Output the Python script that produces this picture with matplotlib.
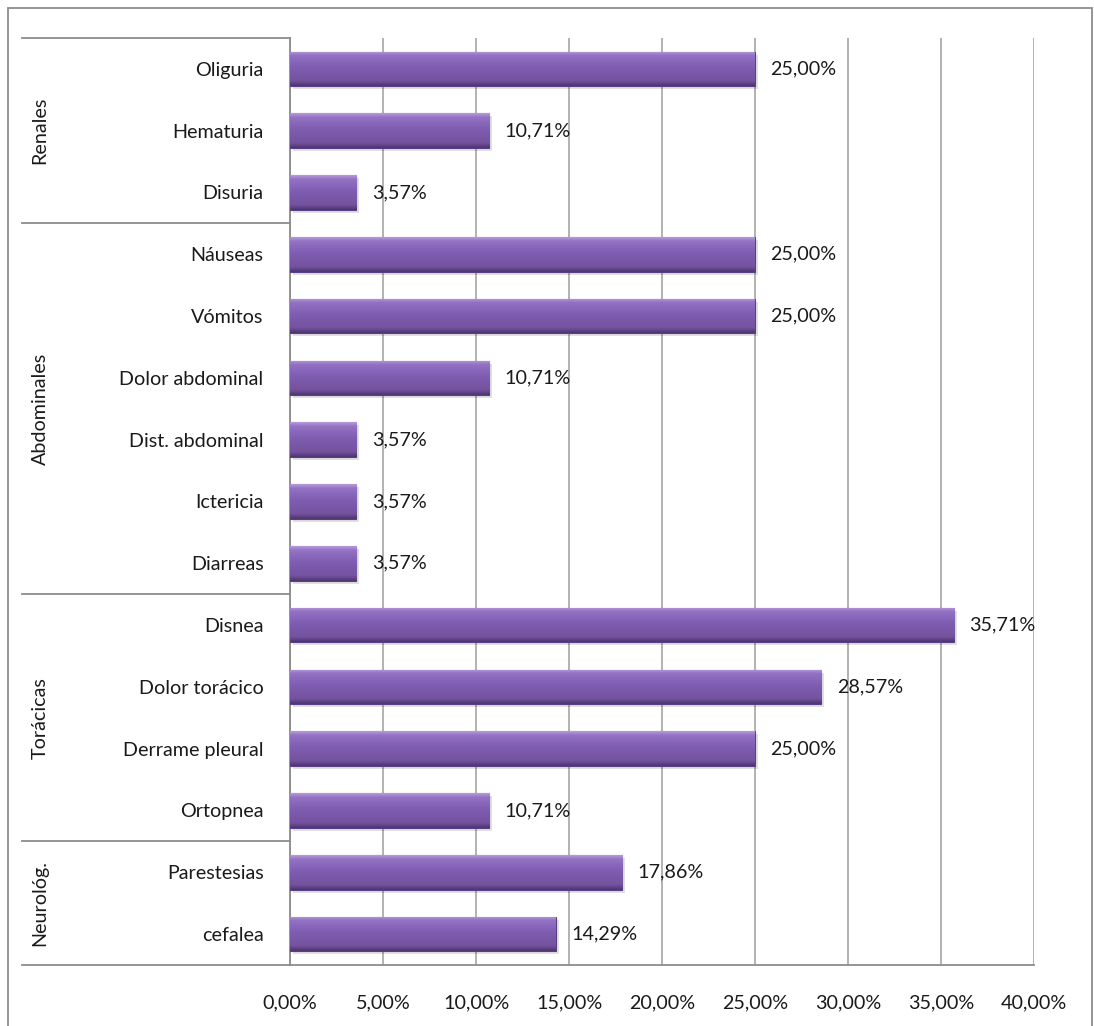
import numpy as np
import matplotlib
matplotlib.use("Agg")
import matplotlib.pyplot as plt
from matplotlib.transforms import blended_transform_factory
from matplotlib.patches import Rectangle

plt.rcParams["font.family"] = ["Lato", "DejaVu Sans"]

# Symptoms grouped by system, listed top to bottom
groups = ["Renales", "Abdominales", "Torácicas", "Neurológ."]
group_items = [
    ["Oliguria", "Hematuria", "Disuria"],
    ["Náuseas", "Vómitos", "Dolor abdominal", "Dist. abdominal", "Ictericia", "Diarreas"],
    ["Disnea", "Dolor torácico", "Derrame pleural", "Ortopnea"],
    ["Parestesias", "cefalea"],
]
group_values = [
    [25.00, 10.71, 3.57],
    [25.00, 25.00, 10.71, 3.57, 3.57, 3.57],
    [35.71, 28.57, 25.00, 10.71],
    [17.86, 14.29],
]
x_ticks = [0, 5, 10, 15, 20, 25, 30, 35, 40]

labels = [s for g in group_items for s in g]
values = [v for g in group_values for v in g]
n = len(labels)
ypos = np.arange(n)

FS = 14.2
TXT = "#1A1A1A"
LINE = "#8C8C8C"

fig = plt.figure(figsize=(10.94, 10.26), dpi=100)
ax = fig.add_axes([290 / 1094, 1 - 965 / 1026, (1034 - 290) / 1094, (965 - 38) / 1026])

# grid
ax.set_axisbelow(True)
ax.xaxis.grid(True, color="#A6A6A6", linewidth=1.2)
ax.yaxis.grid(False)
for side in ["top", "right"]:
    ax.spines[side].set_visible(False)
for side in ["left", "bottom"]:
    ax.spines[side].set_color(LINE)
    ax.spines[side].set_linewidth(1.3)

bar_h = 0.56
purple = "#7D5BAE"

# soft drop shadow
ax.barh(ypos + 0.05, values, height=bar_h, left=0.15, color="#000000", alpha=0.12,
        linewidth=0, zorder=2)
bars = ax.barh(ypos, values, height=bar_h, color=purple, edgecolor="#5B3F86",
               linewidth=0.8, zorder=3)

# bevelled vertical gradient inside each bar
grad = np.linspace(0, 1, 64).reshape(-1, 1)
cmap = matplotlib.colors.LinearSegmentedColormap.from_list(
    "bevel", [(0.0, "#B49AD8"), (0.12, "#9372C4"), (0.45, "#7F5DB1"),
              (0.85, "#75539F"), (1.0, "#4E3672")])
for b in bars:
    x0, y0 = b.get_x(), b.get_y()
    w, h = b.get_width(), b.get_height()
    im = ax.imshow(grad, cmap=cmap, aspect="auto", extent=(x0, x0 + w, y0 + h, y0),
                   zorder=3.5, interpolation="bilinear")
    im.set_clip_path(b)

ax.set_xlim(0, 40)
ax.set_ylim(n - 0.5, -0.5)

# value labels
for yy, v in zip(ypos, values):
    ax.annotate(f"{v:.2f}%".replace(".", ","), xy=(v, yy), xytext=(11, 0),
                textcoords="offset points", va="center", ha="left",
                fontsize=FS, color=TXT, zorder=5)

ax.set_xticks(x_ticks)
ax.set_xticklabels([f"{t:.2f}%".replace(".", ",") for t in x_ticks], fontsize=FS,
                   color=TXT)
ax.tick_params(axis="x", length=0, pad=21)

ax.set_yticks(ypos)
ax.set_yticklabels(labels, fontsize=FS, color=TXT)
ax.tick_params(axis="y", length=0, pad=19)

# group separators and group names on the left
trans = blended_transform_factory(fig.transFigure, ax.transData)
x_left = 22 / 1094
x_axis = 290 / 1094
bounds = [-0.5]
start = 0
for items in group_items:
    start += len(items)
    bounds.append(start - 0.5)
for b in bounds:
    ax.plot([x_left, x_axis], [b, b], transform=trans, color=LINE,
            linewidth=1.3, clip_on=False, zorder=1)
for g, lo, hi in zip(groups, bounds[:-1], bounds[1:]):
    ax.text(40 / 1094, (lo + hi) / 2, g, transform=trans, rotation=90,
            ha="center", va="center", fontsize=FS, color=TXT)

# outer chart frame
fig.patches.append(Rectangle((8 / 1094, -0.02), (1092 - 8) / 1094, 1.02 - 8 / 1026,
                             transform=fig.transFigure, fill=False,
                             edgecolor=LINE, linewidth=1.3))

fig.savefig("out.png", dpi=100, facecolor="white")
